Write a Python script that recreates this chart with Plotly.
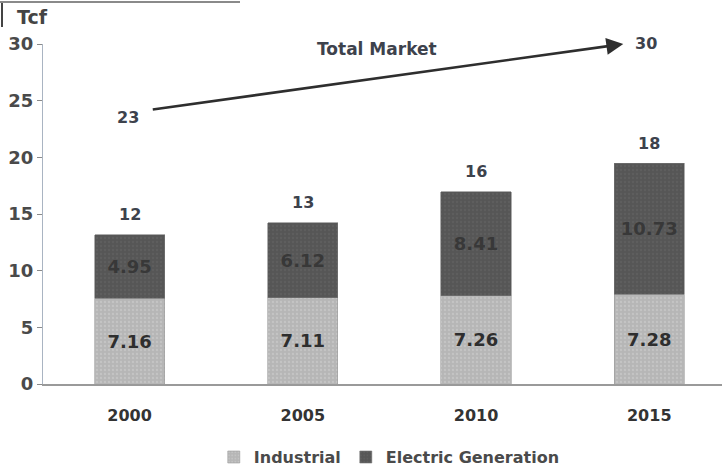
import plotly.graph_objects as go

# categories and values
years = ["2000", "2005", "2010", "2015"]
industrial_labels = ["7.16", "7.11", "7.26", "7.28"]
electric_labels = ["4.95", "6.12", "8.41", "10.73"]
total_labels = ["12", "13", "16", "18"]
# segment heights as drawn in the picture (Tcf)
industrial_drawn = [7.56, 7.62, 7.77, 7.92]
electric_drawn = [5.59, 6.62, 9.20, 11.56]
# total market arrow
market_labels = ["23", "30"]
market_drawn = [24.2, 30.0]

TEXT = "#3d424c"
FONT = "DejaVu Sans, Verdana, sans-serif"

xs = list(range(len(years)))

fig = go.Figure()
fig.add_trace(go.Bar(
    x=xs, y=industrial_drawn, name="Industrial",
    text=industrial_labels, textposition="inside", insidetextanchor="middle",
    textfont=dict(size=18, color="#2e2e2e", family=FONT, weight="bold"),
    marker=dict(color="#b9b9b9", line=dict(color="#9a9a9a", width=0.6),
                pattern=dict(shape=".", fgcolor="#d2d2d2", bgcolor="#b6b6b6",
                             size=4, solidity=0.25)),
    width=0.405,
))
fig.add_trace(go.Bar(
    x=xs, y=electric_drawn, name="Electric Generation",
    text=electric_labels, textposition="inside", insidetextanchor="middle",
    textfont=dict(size=18, color="#383838", family=FONT, weight="bold"),
    marker=dict(color="#585858", line=dict(color="#777777", width=0.6),
                pattern=dict(shape=".", fgcolor="#666666", bgcolor="#565656",
                             size=4, solidity=0.25)),
    width=0.405,
))

annotations = []
for i, lab in enumerate(total_labels):
    annotations.append(dict(
        x=xs[i], y=industrial_drawn[i] + electric_drawn[i], text=lab,
        showarrow=False, yanchor="middle", yshift=20,
        font=dict(size=16, color=TEXT, family=FONT, weight="bold"),
    ))

# Total Market arrow
annotations.append(dict(
    x=2.85, y=market_drawn[1], ax=0.125, ay=market_drawn[0],
    xref="x", yref="y", axref="x", ayref="y", text="",
    showarrow=True, arrowhead=2, arrowsize=1.3, arrowwidth=2.6, arrowcolor="#2e2e2e",
))
annotations.append(dict(x=-0.01, y=23.55, text=market_labels[0], showarrow=False,
                        font=dict(size=16, color=TEXT, family=FONT, weight="bold")))
annotations.append(dict(x=2.98, y=market_drawn[1], text=market_labels[1], showarrow=False,
                        yanchor="middle", yshift=1,
                        font=dict(size=16, color=TEXT, family=FONT, weight="bold")))
annotations.append(dict(x=1.43, y=29.55, text="Total Market", showarrow=False,
                        font=dict(size=17, color=TEXT, family=FONT, weight="bold")))
# unit label
annotations.append(dict(x=-28 / 679, y=1 + (44 - 17) / 340, xref="paper", yref="paper",
                        text="Tcf", showarrow=False, xanchor="left", yanchor="middle",
                        font=dict(size=19, color="#444444", family=FONT, weight="bold")))

fig.update_layout(
    width=725, height=470,
    margin=dict(l=43, r=3, t=44, b=86, autoexpand=False),
    barmode="stack",
    plot_bgcolor="white", paper_bgcolor="white",
    font=dict(family=FONT, color=TEXT),
    annotations=annotations,
    showlegend=True,
    legend=dict(orientation="h", x=0.51, xanchor="center", y=-0.215, yanchor="middle",
                font=dict(size=16, color="#4a4a4a", family=FONT, weight="bold"),
                traceorder="normal", itemwidth=30),
    shapes=[
        dict(type="line", xref="paper", yref="paper",
             x0=-43 / 679, x1=(240 - 43) / 679, y0=1 + 42 / 340, y1=1 + 42 / 340,
             line=dict(color="#8a8a8a", width=2)),
        dict(type="line", xref="paper", yref="paper",
             x0=-41 / 679, x1=-41 / 679, y0=1 + 41 / 340, y1=1 + 17 / 340,
             line=dict(color="#444444", width=2)),
    ],
)

fig.update_xaxes(
    range=[-0.5, 3.42], tickvals=xs, ticktext=years, automargin=False,
    showline=True, linecolor="#9a9a9a", linewidth=1.5, ticks="",
    showgrid=False, zeroline=False,
    tickfont=dict(size=16, color="#333333", family=FONT, weight="bold"),
    ticklabelstandoff=16,
)
fig.update_yaxes(
    range=[0, 30], tickvals=[0, 5, 10, 15, 20, 25, 30], automargin=False,
    showline=True, linecolor="#a9b4c2", linewidth=1.2,
    ticks="outside", ticklen=5, tickcolor="#8a8a8a", tickwidth=1,
    showgrid=False, zeroline=False,
    tickfont=dict(size=18, color="#4a4a4a", family=FONT, weight="bold"),
)

# drop the default page margin so the figure fills the window
fig.write_html("out.html", config={"displayModeBar": False},
               post_script="document.body.style.margin = '0';")
